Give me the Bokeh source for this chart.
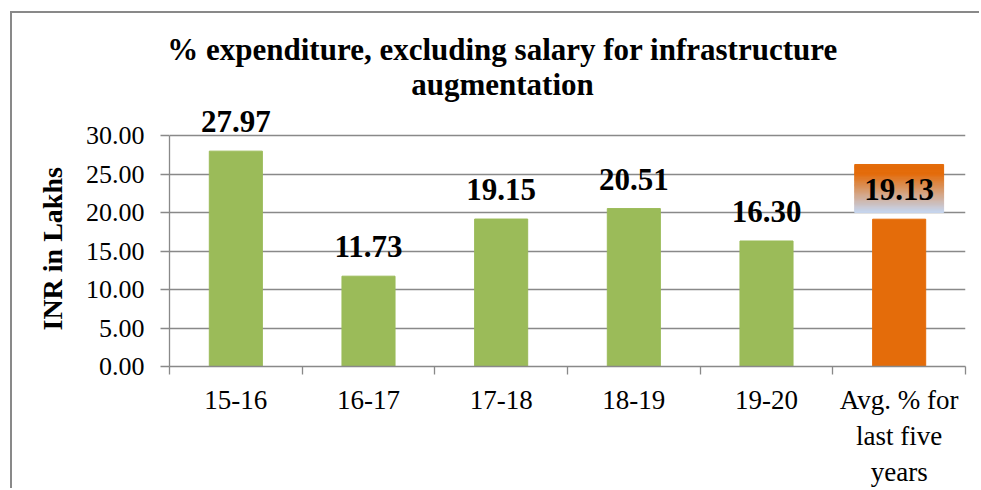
from bokeh.plotting import figure
from bokeh.models import (Range1d, FixedTicker, LinearAxis, ColumnDataSource, LabelSet, Label,
                          Title, Grid, NumeralTickFormatter)
from bokeh.embed import file_html
from bokeh.resources import INLINE

# ---- data ----
categories = ["15-16", "16-17", "17-18", "18-19", "19-20", "Avg. % for\nlast five\nyears"]
values = [27.97, 11.73, 19.15, 20.51, 16.30, 19.13]
value_labels = ["27.97", "11.73", "19.15", "20.51", "16.30", "19.13"]
bar_colors = ["#9BBB59", "#9BBB59", "#9BBB59", "#9BBB59", "#9BBB59", "#E46C0A"]
y_ticks = [0, 5, 10, 15, 20, 25, 30]
title_line1 = "% expenditure, excluding salary for infrastructure"
title_line2 = "augmentation"
y_label = "INR in Lakhs"

FONT = "Liberation Serif"
GRAY = "#898989"

# ---- layout (page pixels) ----
PAGE_W, PAGE_H = 981, 490
MX, MY = 10, 11                      # outer chart border position
BW = 2                               # border width
OX, OY = MX + BW, MY + BW            # canvas origin
W, H = PAGE_W - OX, PAGE_H - OY      # canvas size (border is outside the canvas)
FRAME_L, FRAME_R, FRAME_B = 169, 965, 366
AXIS_TOP = 135                       # pixel row of the 30.00 gridline
px_per_unit = (FRAME_B - AXIS_TOP) / 30.0
px_per_cat = (FRAME_R - FRAME_L) / len(categories)
Y_END = (FRAME_B - OY) / px_per_unit  # frame reaches the top of the canvas


def x_at(px):
    return (px - FRAME_L) / px_per_cat


def y_at(py):
    return (FRAME_B - py) / px_per_unit


centers = [i + 0.5 for i in range(len(categories))]
bounds = list(range(len(categories) + 1))

p = figure(width=W, height=H, x_range=Range1d(0, len(categories)),
           y_range=Range1d(0, Y_END),
           output_backend="svg", toolbar_location=None,
           x_axis_location=None, y_axis_location=None,
           min_border_left=FRAME_L - OX, min_border_right=PAGE_W - FRAME_R,
           min_border_top=0, min_border_bottom=PAGE_H - FRAME_B)
p.outline_line_color = None
p.xgrid.visible = False
p.ygrid.visible = False
p.margin = (MY, 0, 0, MX)
p.styles = {"border-left": "%dpx solid %s" % (BW, GRAY), "border-top": "%dpx solid %s" % (BW, GRAY)}

# y axis
ya = LinearAxis(ticker=FixedTicker(ticks=y_ticks, minor_ticks=[]),
                formatter=NumeralTickFormatter(format="0.00"), bounds=(0, 30))
ya.axis_line_color = GRAY
ya.axis_line_width = 1.3
ya.major_tick_line_color = GRAY
ya.major_tick_line_width = 1.3
ya.major_tick_out = 9
ya.major_tick_in = 0
ya.minor_tick_line_color = None
ya.major_label_text_font = FONT
ya.major_label_text_font_size = "26px"
ya.major_label_text_color = "black"
ya.major_label_standoff = 16
p.add_layout(ya, "left")

ytitle = Title(text=y_label, align="left", offset=36, text_font=FONT,
               text_font_size="28px", text_font_style="bold", text_color="black",
               standoff=30)
p.add_layout(ytitle, "left")

grid = Grid(dimension=1, ticker=ya.ticker, grid_line_color=GRAY, grid_line_width=1.3)
p.add_layout(grid)

# x axis: labels at centers, tick marks at boundaries (minor ticks)
xa = LinearAxis(ticker=FixedTicker(ticks=centers, minor_ticks=bounds))
xa.major_label_overrides = {c: name for c, name in zip(centers, categories)}
xa.axis_line_color = GRAY
xa.axis_line_width = 1.3
xa.major_tick_line_color = None
xa.major_tick_out = 8
xa.major_tick_in = 0
xa.minor_tick_line_color = GRAY
xa.minor_tick_line_width = 1.3
xa.minor_tick_out = 8
xa.minor_tick_in = 0
xa.major_label_text_font = FONT
xa.major_label_text_font_size = "27px"
xa.major_label_text_color = "black"
xa.major_label_standoff = 10
p.add_layout(xa, "below")

# bars
src = ColumnDataSource(dict(x=centers, top=values, color=bar_colors, label=value_labels))
p.vbar(x="x", top="top", width=0.4, color="color", source=src)

# gradient box behind the average label
avg = values[-1]
box_bottom = avg + 6.7 / px_per_unit
box_top = avg + 54.7 / px_per_unit
n = 40
orange = (228, 108, 10)
blue = (198, 214, 240)
qs = dict(left=[], right=[], top=[], bottom=[], color=[])
for i in range(n):
    t = (i + 0.5) / n
    s = min(max((t - 0.2) / 0.8, 0.0), 1.0)
    c = tuple(int(round(orange[k] + (blue[k] - orange[k]) * s)) for k in range(3))
    qs["left"].append(centers[-1] - 0.335)
    qs["right"].append(centers[-1] + 0.335)
    qs["top"].append(box_top - (box_top - box_bottom) * i / n)
    qs["bottom"].append(box_top - (box_top - box_bottom) * (i + 1) / n)
    qs["color"].append("#%02x%02x%02x" % c)
p.quad(left="left", right="right", top="top", bottom="bottom", color="color",
       source=ColumnDataSource(qs))

labels = LabelSet(x="x", y="top", text="label", source=src, y_offset=19,
                  text_align="center", text_baseline="alphabetic",
                  text_font=FONT, text_font_size="31px", text_font_style="bold",
                  text_color="black")
p.add_layout(labels)

# chart title: two centred lines
TITLE_CENTER = 502
for txt, base in ((title_line1, 49), (title_line2, 84)):
    p.add_layout(Label(x=x_at(TITLE_CENTER), y=y_at(base), text=txt,
                       text_align="center", text_baseline="alphabetic",
                       text_font=FONT, text_font_size="31px", text_font_style="bold",
                       text_color="black"))

open("out.html", "w").write(file_html(p, INLINE))
